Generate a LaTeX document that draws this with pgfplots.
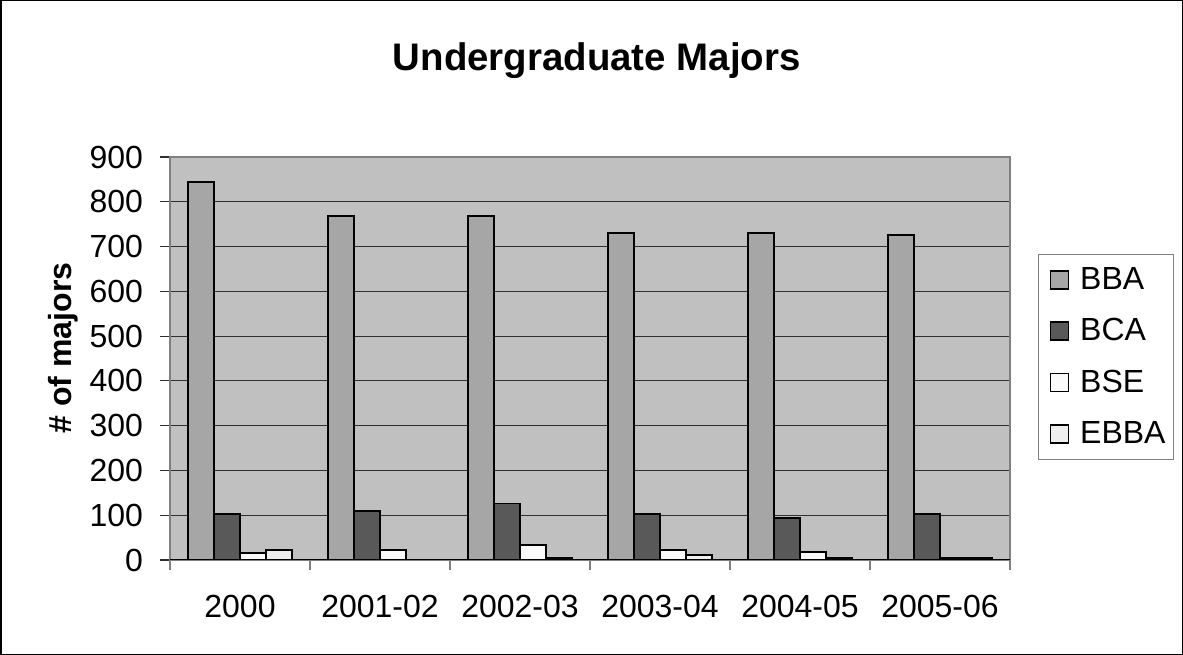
\documentclass[border=0pt]{standalone}
\usepackage{fontspec}
\setmainfont{Liberation Sans}
\usepackage{pgfplots}
\pgfplotsset{compat=1.18}
\definecolor{plotbg}{HTML}{C0C0C0}
\definecolor{cBBA}{HTML}{A6A6A6}
\definecolor{cBCA}{HTML}{595959}
\definecolor{cBSE}{HTML}{FAFAFA}
\definecolor{cEBBA}{HTML}{EEEEEE}
\definecolor{gridc}{HTML}{303030}
\definecolor{framec}{HTML}{808080}
\begin{document}
\begin{tikzpicture}
\useasboundingbox (0,0) rectangle (591.5bp,327.5bp);
\draw[line width=0.75bp] (0.375bp,0.375bp) rectangle (591.125bp,327.125bp);
\begin{axis}[
  at={(85bp,47.5bp)}, anchor=south west,
  scale only axis, width=420bp, height=201.5bp,
  xmin=-0.5, xmax=5.5, ymin=0, ymax=900,
  ytick={0,100,...,900},
  xtick={0,1,2,3,4,5},
  xticklabels={2000,2001-02,2002-03,2003-04,2004-05,2005-06},
  minor xtick={-0.5,0.5,1.5,2.5,3.5,4.5,5.5},
  major x tick style={draw=none},
  minor x tick style={draw=framec, line width=0.6bp},
  major y tick style={draw=gridc, line width=0.6bp},
  tick pos=left, tick align=outside,
  major tick length=5bp, minor tick length=5bp,
  ymajorgrids, grid style={draw=gridc, line width=0.6bp},
  axis background/.style={fill=plotbg},
  axis line style={draw=framec, line width=0.7bp},
  /pgf/number format/assume math mode=true,
  ticklabel style={font=\fontsize{16bp}{19bp}\selectfont},
  yticklabel style={xshift=-5bp},
  xticklabel style={yshift=-9bp},
  title={Undergraduate Majors},
  title style={font=\fontsize{19.2bp}{23bp}\selectfont\bfseries, at={(rel axis cs:0.508,1.186)}, anchor=base},
  ylabel={\# of majors},
  ylabel style={font=\fontsize{16bp}{19bp}\selectfont\bfseries, at={(rel axis cs:-0.1274,0.526)}, anchor=center, rotate=0},
  ybar=0pt, bar width=13bp,
  every axis plot/.append style={draw=black, line width=0.9bp},
  legend style={at={(1.0333,0.504)}, anchor=west, draw=framec, line width=0.6bp,
    font=\fontsize{16bp}{19bp}\selectfont, inner xsep=2bp, inner ysep=4.5bp, row sep=9.1bp,
    /tikz/every odd column/.append style={column sep=3.5bp}},
  legend cell align=left,
  legend image code/.code={\path (0bp,0bp); \draw[#1, line width=0.7bp] (3.5bp,-4.5bp) rectangle (12.5bp,4.5bp);},
]
\addplot[fill=cBBA] coordinates {(0,845) (1,768) (2,768) (3,730) (4,730) (5,725)};
\addplot[fill=cBCA] coordinates {(0,103) (1,110) (2,126) (3,103) (4,93) (5,103)};
\addplot[fill=cBSE] coordinates {(0,16) (1,22) (2,33) (3,22) (4,17) (5,5)};
\addplot[fill=cEBBA] coordinates {(0,22) (1,0) (2,5) (3,12) (4,5) (5,5)};
\legend{BBA,BCA,BSE,EBBA}
\draw[black, line width=0.8bp] (rel axis cs:0,0) -- (rel axis cs:1,0);
\end{axis}
\end{tikzpicture}
\end{document}
